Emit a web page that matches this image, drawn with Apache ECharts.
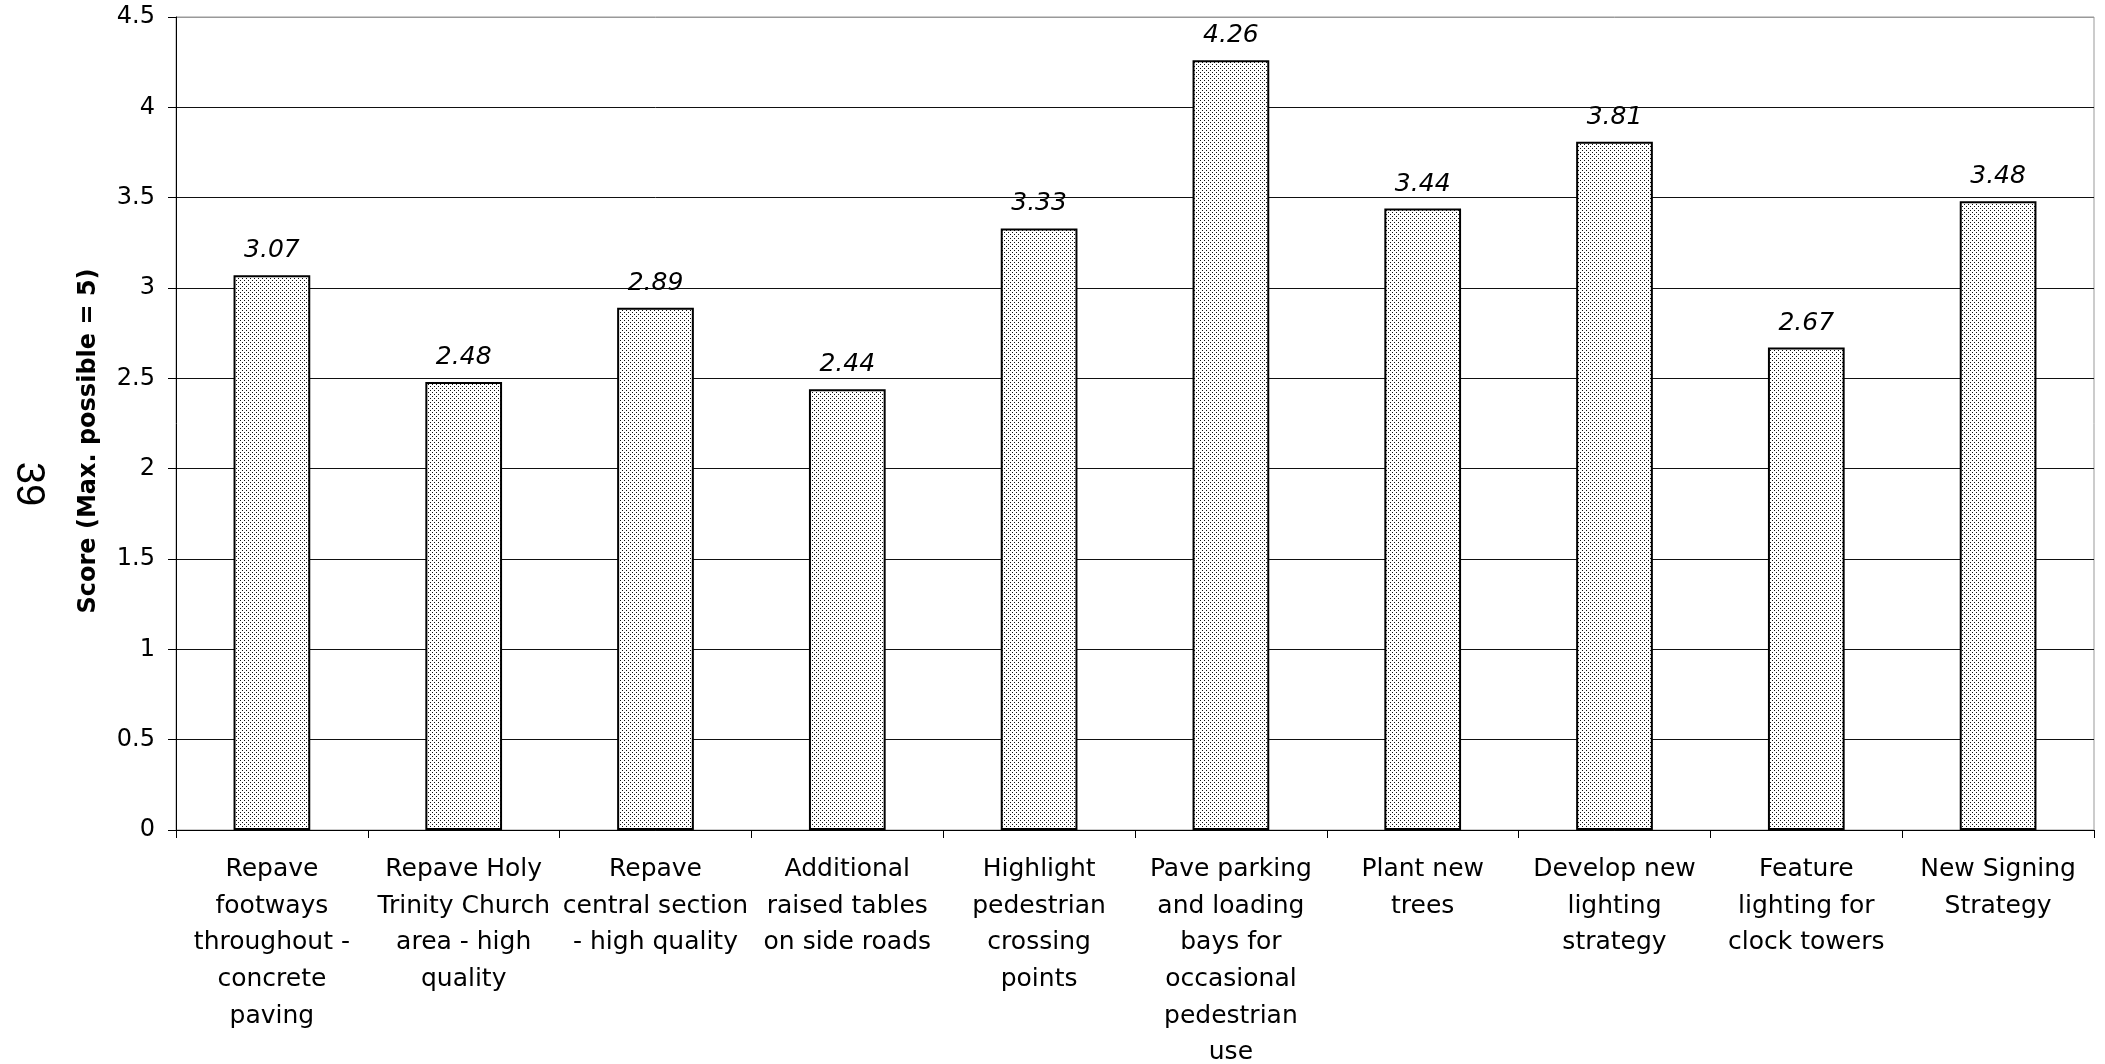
<!DOCTYPE html>
<html>
<head>
<meta charset="utf-8">
<title>Scheme scores</title>
<script src="https://cdn.jsdelivr.net/npm/echarts@6/dist/echarts.min.js"></script>
<style>
  html, body { margin: 0; padding: 0; background: #fff; }
  #chart { width: 2105px; height: 1064px; }
</style>
</head>
<body>
<div id="chart"></div>
<script>
// Proposed schemes (label line breaks as printed under the axis)
const categories = [
  'Repave\nfootways\nthroughout -\nconcrete\npaving',
  'Repave Holy\nTrinity Church\narea - high\nquality',
  'Repave\ncentral section\n- high quality',
  'Additional\nraised tables\non side roads',
  'Highlight\npedestrian\ncrossing\npoints',
  'Pave parking\nand loading\nbays for\noccasional\npedestrian\nuse',
  'Plant new\ntrees',
  'Develop new\nlighting\nstrategy',
  'Feature\nlighting for\nclock towers',
  'New Signing\nStrategy'
];

// Average score for each scheme (maximum possible = 5)
const scores = [3.07, 2.48, 2.89, 2.44, 3.33, 4.26, 3.44, 3.81, 2.67, 3.48];

const axisTitle = 'Score (Max. possible = 5)';
const pageNumber = '39';

// Fine dotted fill used for the bars
function dotPattern() {
  const c = document.createElement('canvas');
  c.width = 4; c.height = 4;
  const g = c.getContext('2d');
  g.fillStyle = '#ffffff';
  g.fillRect(0, 0, 4, 4);
  g.fillStyle = '#111111';
  g.fillRect(0, 0, 1, 1);
  g.fillRect(2, 2, 1, 1);
  return c;
}

const FONT = '"DejaVu Sans", sans-serif';
const chart = echarts.init(document.getElementById('chart'), null, { renderer: 'canvas' });

chart.setOption({
  animation: false,
  backgroundColor: '#ffffff',
  grid: {
    left: 176, right: 11, top: 17, bottom: 234,
    outerBoundsMode: 'none',
    containLabel: false,
    show: true, borderColor: '#999999', borderWidth: 1
  },
  xAxis: {
    type: 'category',
    data: categories,
    axisLine: { show: true, lineStyle: { color: '#000', width: 1 } },
    axisTick: { show: true, length: 8, alignWithLabel: false, lineStyle: { color: '#000' } },
    axisLabel: {
      interval: 0, margin: 21, color: '#000',
      fontFamily: FONT, fontSize: 25, lineHeight: 36.7, align: 'center'
    },
    splitLine: { show: false }
  },
  yAxis: {
    type: 'value',
    min: 0, max: 4.5, interval: 0.5,
    axisLine: { show: true, lineStyle: { color: '#000', width: 1 } },
    axisTick: { show: true, length: 8, lineStyle: { color: '#000' } },
    axisLabel: { margin: 21, color: '#000', fontFamily: FONT, fontSize: 24 },
    splitLine: {
      show: true,
      lineStyle: {
        color: ['#111', '#111', '#111', '#111', '#111', '#111', '#111', '#111', '#111', '#999'],
        width: 1
      }
    }
  },
  series: [{
    type: 'bar',
    data: scores,
    barWidth: '40%',
    itemStyle: {
      color: { image: dotPattern(), repeat: 'repeat' },
      borderColor: '#000',
      borderWidth: 2
    },
    label: {
      show: true,
      position: 'top',
      distance: 12,
      color: '#000',
      fontFamily: FONT,
      fontStyle: 'italic',
      fontSize: 25,
      formatter: p => p.value.toFixed(2)
    }
  }],
  graphic: [
    {
      type: 'text',
      x: 89, y: 441,
      rotation: Math.PI / 2,
      style: {
        text: axisTitle,
        font: 'bold 24px "DejaVu Sans", sans-serif',
        fill: '#000',
        align: 'center',
        verticalAlign: 'middle'
      }
    },
    {
      type: 'text',
      x: 28, y: 484,
      rotation: -Math.PI / 2,
      style: {
        text: pageNumber,
        font: '40px "Liberation Sans", Arial, sans-serif',
        fill: '#000',
        align: 'center',
        verticalAlign: 'middle'
      }
    }
  ]
});
</script>
</body>
</html>
